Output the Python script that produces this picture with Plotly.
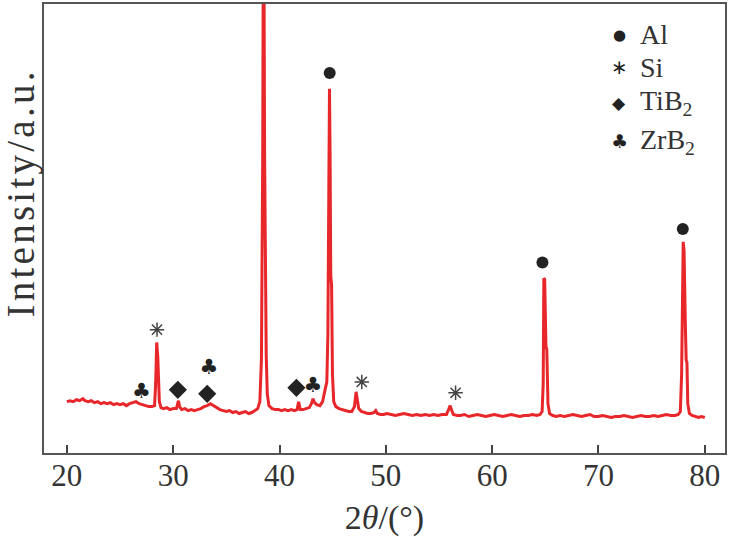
import plotly.graph_objects as go

# XRD pattern (2theta in degrees, intensity in a.u.)
two_theta = [
    20.0, 20.3, 20.6, 20.9, 21.2, 21.5, 21.7, 22.0, 22.3, 22.6, 22.9, 23.2, 23.5, 23.8,
    24.1, 24.4, 24.7, 25.0, 25.3, 25.6, 25.9, 26.2, 26.5, 26.8, 27.1, 27.4, 27.7, 28.0,
    28.25, 28.35, 28.45, 28.55, 28.62, 28.7, 28.85, 29.1, 29.4, 29.7, 30.0, 30.3, 30.42,
    30.5, 30.6, 30.8, 31.1, 31.4, 31.7, 32.0, 32.3, 32.6, 32.9, 33.2, 33.5, 33.8, 34.1,
    34.4, 34.7, 35.0, 35.3, 35.6, 35.9, 36.2, 36.5, 36.8, 37.1, 37.4, 37.7, 37.95, 38.15,
    38.3, 38.42, 38.5, 38.6, 38.68, 38.75, 38.85, 39.0, 39.3, 39.6, 39.9, 40.2, 40.5,
    40.8, 41.1, 41.4, 41.65, 41.8, 41.95, 42.2, 42.5, 42.8, 43.0, 43.15, 43.3, 43.5, 43.8,
    44.05, 44.3, 44.45, 44.55, 44.62, 44.7, 44.76, 44.82, 44.9, 44.98, 45.1, 45.3, 45.6,
    45.9, 46.2, 46.5, 46.8, 47.05, 47.2, 47.3, 47.45, 47.7, 48.0, 48.3, 48.6, 48.9, 49.05,
    49.2, 49.5, 49.8, 50.1, 50.5, 50.9, 51.3, 51.7, 52.1, 52.5, 52.9, 53.3, 53.7, 54.1,
    54.5, 54.9, 55.3, 55.7, 55.9, 56.05, 56.2, 56.35, 56.7, 57.0, 57.4, 57.8, 58.2, 58.6,
    59.0, 59.4, 59.8, 60.2, 60.6, 61.0, 61.4, 61.8, 62.2, 62.6, 63.0, 63.4, 63.8, 64.2,
    64.5, 64.7, 64.8, 64.86, 64.94, 65.0, 65.06, 65.14, 65.25, 65.4, 65.7, 66.0, 66.4,
    66.8, 67.2, 67.6, 68.0, 68.4, 68.8, 69.2, 69.6, 70.0, 70.4, 70.8, 71.2, 71.6, 72.0,
    72.4, 72.8, 73.2, 73.6, 74.0, 74.4, 74.8, 75.2, 75.6, 76.0, 76.4, 76.8, 77.2, 77.5,
    77.7, 77.82, 77.9, 77.97, 78.05, 78.12, 78.18, 78.25, 78.32, 78.4, 78.55, 78.8, 79.1,
    79.4, 79.7, 80.0,
]
intensity = [
    52, 53, 52, 54, 53, 55, 53, 52, 53, 51, 52, 50, 51, 50,
    51, 49, 50, 49, 50, 48, 50, 51, 52, 50, 49, 48, 47, 47,
    48, 70, 112, 98, 76, 52, 46, 45, 46, 44, 45, 45, 50,
    53, 47, 44, 45, 43, 44, 43, 44, 45, 47, 48, 50, 48, 46,
    44, 43, 42, 43, 41, 42, 40, 41, 42, 40, 41, 43, 45, 52,
    95, 300, 620, 300, 100, 99, 60, 48, 45, 44, 44, 43, 44,
    43, 44, 43, 44, 52, 44, 44, 45, 46, 50, 55, 51, 49, 48,
    52, 65, 72, 120, 320, 369, 300, 180, 170, 80, 52, 47, 45,
    44, 43, 42, 42, 47, 62, 56, 45, 42, 41, 40, 40, 41, 43,
    40, 39, 39, 40, 39, 38, 39, 40, 39, 38, 39, 38, 39, 38,
    39, 38, 39, 39, 44, 48, 43, 39, 38, 38, 39, 37, 38, 39,
    38, 37, 38, 39, 38, 37, 38, 39, 38, 37, 38, 38, 39, 38,
    39, 42, 70, 177, 176, 150, 108, 105, 50, 40, 38, 37, 38,
    37, 38, 39, 38, 37, 38, 39, 37, 37, 38, 37, 36, 37, 37,
    38, 37, 36, 37, 38, 37, 37, 38, 37, 38, 39, 38, 38, 39,
    42, 80, 200, 214, 205, 125, 125, 94, 92, 50, 40, 38, 37,
    36, 37, 36,
]

# phase marks above the peaks
al_x = [44.72, 64.73, 77.93]
al_y = [385, 193, 227]
si_x = [28.48, 47.74, 56.56]
si_y = [125, 72, 61]
tib2_x = [30.44, 33.2, 41.59]
tib2_y = [64, 60, 66]
zrb2_x = [27.0, 33.36, 43.14]
zrb2_y = [61, 85, 67]

legend_names = ["Al", "Si", "TiB<sub>2</sub>", "ZrB<sub>2</sub>"]

serif = "Liberation Serif, Times New Roman, serif"
ink = "#222222"
txt = "#333333"

# plot area in pixels, used to place the hand-made legend and y title
L, R, T, B = 44, 727, 2, 457


def px(x, y):
    return (x - L) / (R - L), (B - y) / (B - T)


fig = go.Figure()
fig.add_trace(go.Scatter(x=two_theta, y=intensity, mode="lines",
                         line=dict(color="#e8272b", width=3), showlegend=False))

fig.add_trace(go.Scatter(x=al_x, y=al_y, mode="markers", showlegend=False,
                         marker=dict(symbol="circle", size=12, color=ink)))
fig.add_trace(go.Scatter(x=si_x, y=si_y, mode="markers", showlegend=False,
                         marker=dict(symbol="asterisk-open", size=12, color="#444444",
                                     line=dict(color="#444444", width=1.5))))
fig.add_trace(go.Scatter(x=tib2_x, y=tib2_y, mode="markers", showlegend=False,
                         marker=dict(symbol="diamond", size=14, color=ink)))
fig.add_trace(go.Scatter(x=zrb2_x, y=zrb2_y, mode="text", text=["♣"] * len(zrb2_x),
                         textfont=dict(family="DejaVu Sans", size=21, color=ink),
                         showlegend=False))

# legend drawn by hand, top right
leg_rows = [33, 66, 102, 141]
leg_syms = ["●", "∗", "◆", "♣"]
leg_sizes = [15, 20, 17, 19]
for name, row, sym, sz in zip(legend_names, leg_rows, leg_syms, leg_sizes):
    sx, sy = px(621, row)
    fig.add_annotation(x=sx, y=sy, xref="paper", yref="paper",
                       text=sym, showarrow=False, xanchor="center", yanchor="middle",
                       font=dict(family="DejaVu Sans", size=sz, color=ink))
    tx, ty = px(640, row)
    fig.add_annotation(x=tx, y=ty, xref="paper", yref="paper",
                       text=name, showarrow=False, xanchor="left", yanchor="middle",
                       font=dict(family=serif, size=28, color=txt))

yx, yy = px(21, 195)
fig.add_annotation(x=yx, y=yy, xref="paper", yref="paper",
                   text="\u200a".join("Intensity/a.u."), textangle=-90, showarrow=False,
                   xanchor="center", yanchor="middle",
                   font=dict(family=serif, size=39, color=txt))

fig.update_layout(
    width=729, height=537,
    margin=dict(l=L, r=729 - R, t=T, b=537 - B),
    paper_bgcolor="white", plot_bgcolor="white",
    xaxis=dict(range=[17.85, 81.9], tickvals=[20, 30, 40, 50, 60, 70, 80],
               ticks="inside", ticklen=8, tickwidth=1.5, tickcolor="#444444",
               showline=True, linecolor="#555555", linewidth=2, mirror=True,
               showgrid=False, zeroline=False, ticklabelstandoff=-6,
               tickfont=dict(family=serif, size=31, color=txt),
               title=dict(text="2<i>θ</i>/(°)", standoff=18,
                          font=dict(family=serif, size=34, color=txt))),
    yaxis=dict(range=[0, 455], showticklabels=False, ticks="",
               showline=True, linecolor="#555555", linewidth=2, mirror=True,
               showgrid=False, zeroline=False),
)

fig.write_html("out.html", config={"displayModeBar": False},
               post_script="document.body.style.margin='0px';")
